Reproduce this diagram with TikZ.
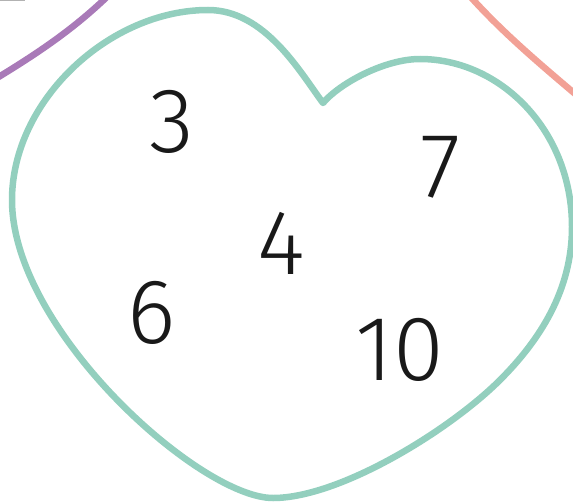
\documentclass[tikz,border=0pt]{standalone}
\usepackage{fontspec}
\setmainfont{Fira Sans}[UprightFont={* Light}]
\definecolor{heartc}{HTML}{93CFBE}
\definecolor{purplec}{HTML}{A97AB8}
\definecolor{salmonc}{HTML}{F2A196}
\begin{document}
\begin{tikzpicture}[x=1pt,y=-1pt,
  num/.style={text=black!90,font=\fontsize{92}{92}\selectfont,inner sep=0pt},
  ring/.style={line width=6.5pt}]
\useasboundingbox (0,0) rectangle (573,503);
\begin{scope}
\clip (0,0) rectangle (573,503);
\draw[ring,purplec] (-8,81) .. controls (40,52) and (75,28) .. (110,-6);
\draw[ring,salmonc] (468,-6) .. controls (500,30) and (535,60) .. (580,98);
\draw[gray!60,line width=1.2pt] (0,0.6) -- (25,0.6);
\draw[ring,heartc,line join=round]
  (323,103) .. controls (300,72) and (265,10) .. (208,10)
  .. controls (110,10) and (12,100) .. (12,200)
  .. controls (12,330) and (200,498) .. (273,498)
  .. controls (340,498) and (450,430) .. (500,380)
  .. controls (540,340) and (572,290) .. (572,227)
  .. controls (572,130) and (500,59) .. (420,59)
  .. controls (385,59) and (340,83) .. cycle;
\end{scope}
\node[num] (n3) at (172,122) {3};
\node[num] (n7) at (441,167) {7};
\node[num] (n4) at (281,243) {4};
\node[num] (n6) at (152,313) {6};
\node[num] (n10) at (400,350) {10};
\end{tikzpicture}
\end{document}
